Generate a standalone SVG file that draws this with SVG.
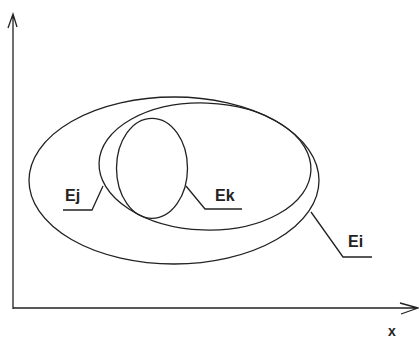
<svg xmlns="http://www.w3.org/2000/svg" width="419" height="340" viewBox="0 0 419 340">
<style>
.ln{fill:none;stroke:#222;stroke-width:1.3}
.lb{font-family:"Liberation Sans",Arial,sans-serif;font-weight:bold;font-size:16px;fill:#222}
</style>
<rect width="419" height="340" fill="#fff"/>
<g id="axes">
<path class="ln" d="M13,309 V14 M8,28 L13,14 L17,27"/>
<path class="ln" d="M13,308 H418 M400,303 L418,308 L401,314"/>
<text class="lb" x="392" y="336" text-anchor="middle" style="font-size:14px">x</text>
</g>
<g id="Ei">
<ellipse class="ln" cx="174" cy="180.5" rx="145" ry="83.5"/>
<text class="lb" x="348" y="247">Ei</text>
</g>
<g id="Ej">
<ellipse class="ln" cx="205" cy="166.5" rx="106" ry="63.5" transform="rotate(2 205 166.5)"/>
<text class="lb" x="65" y="201">Ej</text>
</g>
<g id="Ek">
<ellipse class="ln" cx="152" cy="168.3" rx="35.5" ry="50"/>
<text class="lb" x="215" y="201">Ek</text>
</g>
<g id="connectors">
<path class="ln" d="M103,186 L92,210 H63"/>
<path class="ln" d="M186,186 L205,209 H242"/>
<path class="ln" d="M311,212 L343,257 H372"/>
</g>
</svg>
